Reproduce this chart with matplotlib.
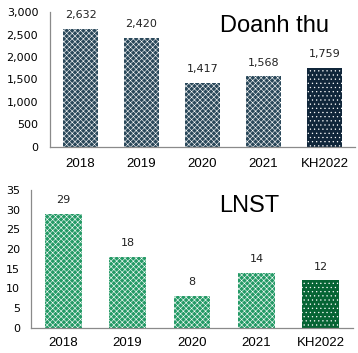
import matplotlib
matplotlib.use("Agg")
import matplotlib.pyplot as plt

# data
years = ["2018", "2019", "2020", "2021", "KH2022"]
revenue = [2632, 2420, 1417, 1568, 1759]
profit = [29, 18, 8, 14, 12]
rev_ticks = [0, 500, 1000, 1500, 2000, 2500, 3000]
prof_ticks = [0, 5, 10, 15, 20, 25, 30, 35]

plt.rcParams["hatch.color"] = "white"
plt.rcParams["hatch.linewidth"] = 0.4

fig = plt.figure(figsize=(3.58, 3.53), dpi=100)

W, H = 358, 353


def box(left, right, top, bottom):
    return [left / W, 1 - bottom / H, (right - left) / W, (bottom - top) / H]


def draw(ax, values, ticks, face, face_last, hatch, hatch_last, fmt, tickpad, xpad):
    x = list(range(len(values)))
    bars = ax.bar(x, values, width=0.57, color=face, hatch=hatch, linewidth=0)
    bars[-1].set_facecolor(face_last)
    bars[-1].set_hatch(hatch_last)
    for xi, v in zip(x, values):
        ax.annotate(fmt(v), (xi, v), xytext=(0, 10), textcoords="offset points",
                    ha="center", va="center", fontsize=8, family="DejaVu Sans",
                    color="#222222")
    ax.set_xlim(-0.5, len(values) - 0.5)
    ax.set_ylim(ticks[0], ticks[-1])
    ax.set_yticks(ticks)
    ax.set_yticklabels([f"{t:,}" for t in ticks], family="DejaVu Sans", fontsize=8)
    ax.set_xticks(x)
    ax.set_xticklabels(years, family="Liberation Sans", fontsize=9.5)
    ax.tick_params(axis="y", length=0, pad=tickpad)
    ax.tick_params(axis="x", length=0, pad=xpad)
    for s in ["top", "right"]:
        ax.spines[s].set_visible(False)
    for s in ["left", "bottom"]:
        ax.spines[s].set_color("#8a8a8a")
        ax.spines[s].set_linewidth(0.9)


ax1 = fig.add_axes(box(50, 355, 12, 147))
draw(ax1, revenue, rev_ticks, "#2a485a", "#10263a", "xxxxxx", "....",
     lambda v: f"{v:,}", 8.5, 8)

ax2 = fig.add_axes(box(31, 353, 190, 327.7))
draw(ax2, profit, prof_ticks, "#249a66", "#066434", "xxxxxx", "....",
     lambda v: f"{v}", 8, 6.5)

fig.text(274.5 / W, 1 - 31.7 / H, "Doanh thu", family="Liberation Sans",
         fontsize=17, ha="center", va="baseline")
fig.text(249.5 / W, 1 - 211.7 / H, "LNST", family="Liberation Sans",
         fontsize=17, ha="center", va="baseline")

fig.savefig("out.png", dpi=100)
